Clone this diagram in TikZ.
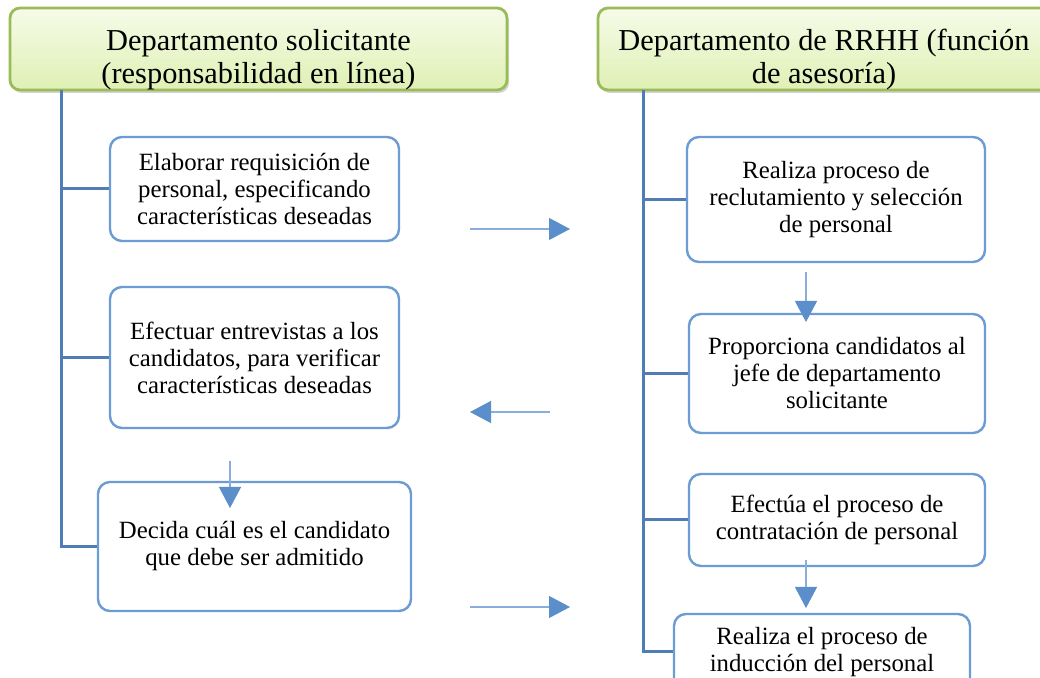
\documentclass[tikz,border=0pt]{standalone}
\usepackage{fontspec}
\setmainfont{Liberation Serif}
\usetikzlibrary{arrows.meta,shadows}

\definecolor{spineblue}{HTML}{4F7DB5}
\definecolor{boxblue}{HTML}{6D9BD3}
\definecolor{headgreen}{HTML}{9BBB59}
\definecolor{headtop}{HTML}{F6FBE8}
\definecolor{headbot}{HTML}{DFF0B4}
\definecolor{flowline}{HTML}{8AAEDB}
\definecolor{flowhead}{HTML}{5B8FCB}

\newcommand{\headstrut}{\rule{0pt}{21pt}}

\tikzset{
	header/.style={shape=rectangle, rounded corners=5pt, draw=headgreen, line width=1.4pt,
		top color=headtop, bottom color=headbot,
		drop shadow={opacity=0.35, shadow xshift=1pt, shadow yshift=-1.5pt},
		align=center, inner sep=0pt, font=\fontsize{15.2}{16.5}\selectfont},
	task/.style={shape=rectangle, rounded corners=6pt, draw=boxblue, line width=1.2pt,
		fill=white, align=center, inner sep=0pt, font=\fontsize{12.4}{13.5}\selectfont},
	spine/.style={draw=spineblue, line width=1.5pt},
	flow/.style={draw=flowline, line width=0.6pt, -{Triangle[length=10.5pt,width=11pt,color=flowhead]}},
}

\begin{document}
\begin{tikzpicture}[x=0.5pt, y=-0.5pt]
	
	\useasboundingbox (0,0) rectangle (1040,678);
	\clip (0,0) rectangle (1040,678);
	
	% column headers
	\node[header, minimum width=248.5pt, minimum height=41pt] (h1) at (258.5, 49) {\headstrut Departamento solicitante\\(responsabilidad en línea)};
	\node[header, minimum width=226pt, minimum height=41pt] (h2) at (824, 49) {\headstrut Departamento de RRHH (función\\de asesoría)};
	
	% left column
	\node[task, minimum width=144.5pt, minimum height=52pt] (b1) at (254.5, 189) {Elaborar requisición de\\personal, especificando\\características deseadas};
	\node[task, minimum width=144.5pt, minimum height=70.5pt] (b2) at (254.5, 357.5) {Efectuar entrevistas a los\\candidatos, para verificar\\características deseadas};
	\node[task, minimum width=156.5pt, minimum height=64.5pt] (b3) at (254.5, 546.5) {Decida cuál es el candidato\\que debe ser admitido};
	
	% right column
	\node[task, minimum width=149pt, minimum height=62.5pt] (r1) at (836, 199.5) {Realiza proceso de\\reclutamiento y selección\\de personal};
	\node[task, minimum width=148pt, minimum height=59.5pt] (r2) at (837, 373.5) {Proporciona candidatos al\\jefe de departamento\\solicitante};
	\node[task, minimum width=148pt, minimum height=46pt] (r3) at (837, 520) {Efectúa el proceso de\\contratación de personal};
	\node[task, minimum width=148pt, minimum height=38pt] (r4) at (822, 652) {Realiza el proceso de\\inducción del personal};
	
	% spines
	\coordinate (ls) at (61, 90);
	\coordinate (rs) at (643, 90);
	\path[spine] (ls) |- (b3.west);
	\path[spine] (ls |- b1.west) -- (b1.west);
	\path[spine] (ls |- b2.west) -- (b2.west);
	\path[spine] (rs) |- (r4.west);
	\path[spine] (rs |- r1.west) -- (r1.west);
	\path[spine] (rs |- r2.west) -- (r2.west);
	\path[spine] (rs |- r3.west) -- (r3.west);
	
	% flow arrows
	\coordinate (f1a) at (470, 229);
	\coordinate (f1b) at (570, 229);
	\coordinate (f2a) at (550, 412);
	\coordinate (f2b) at (470, 412);
	\coordinate (f3a) at (470, 607);
	\coordinate (f3b) at (570, 607);
	\coordinate (d1a) at (230, 461);
	\coordinate (d1b) at (230, 508);
	\coordinate (d2a) at (806, 272);
	\coordinate (d2b) at (806, 322);
	\coordinate (d3a) at (806, 560);
	\coordinate (d3b) at (806, 608);
	
	\draw[flow] (f1a) -- (f1b);
	\draw[flow] (f2a) -- (f2b);
	\draw[flow] (f3a) -- (f3b);
	\draw[flow] (d1a) -- (d1b);
	\draw[flow] (d2a) -- (d2b);
	\draw[flow] (d3a) -- (d3b);
	
\end{tikzpicture}
\end{document}
